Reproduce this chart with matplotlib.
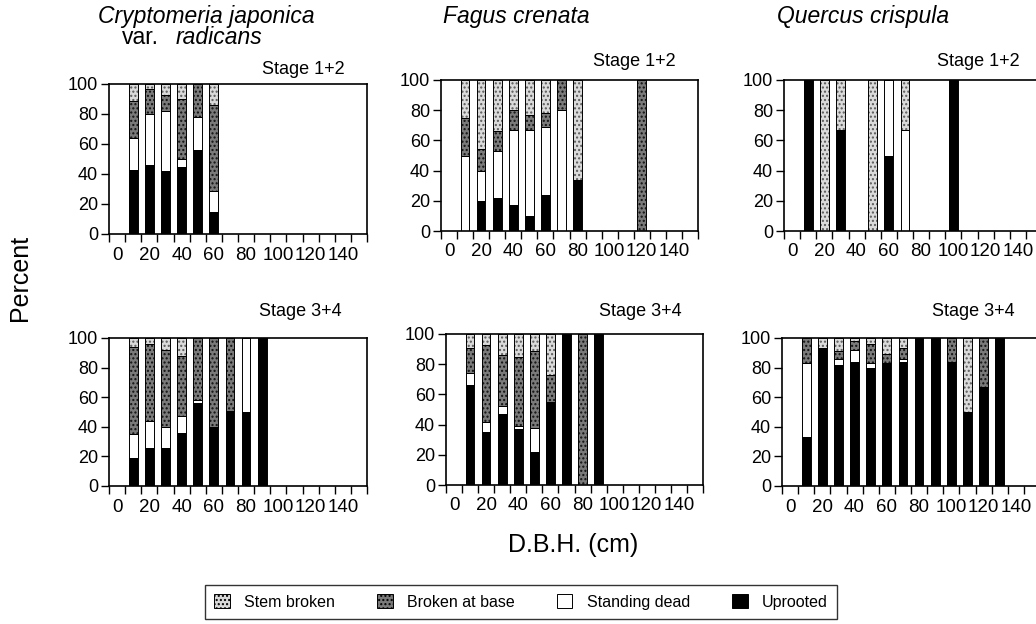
import matplotlib
matplotlib.use("Agg")
import matplotlib.pyplot as plt
from matplotlib.patches import Patch
import numpy as np

plt.rcParams["font.family"] = ["Liberation Sans", "DejaVu Sans"]
plt.rcParams["hatch.linewidth"] = 1.0

# DBH classes (cm) and percentages per damage type
crypto_s12_dbh = [10, 20, 30, 40, 50, 60]
crypto_s12_uprooted = [43, 46, 42, 45, 56, 15]
crypto_s12_standing = [21, 34, 40, 5, 22, 14]
crypto_s12_base = [25, 17, 11, 40, 22, 57]
crypto_s12_stem = [11, 3, 7, 10, 0, 14]

fagus_s12_dbh = [10, 20, 30, 40, 50, 60, 70, 80, 120]
fagus_s12_uprooted = [0, 20, 22, 17, 10, 24, 0, 34, 0]
fagus_s12_standing = [50, 20, 31, 50, 57, 45, 80, 0, 0]
fagus_s12_base = [25, 14, 13, 13, 10, 9, 20, 0, 100]
fagus_s12_stem = [25, 46, 34, 20, 23, 22, 0, 66, 0]

quercus_s12_dbh = [10, 20, 30, 50, 60, 70, 100]
quercus_s12_uprooted = [100, 0, 67, 0, 50, 0, 100]
quercus_s12_standing = [0, 0, 0, 0, 50, 67, 0]
quercus_s12_base = [0, 0, 0, 0, 0, 0, 0]
quercus_s12_stem = [0, 100, 33, 100, 0, 33, 0]

crypto_s34_dbh = [10, 20, 30, 40, 50, 60, 70, 80, 90]
crypto_s34_uprooted = [19, 26, 26, 36, 56, 40, 51, 50, 100]
crypto_s34_standing = [16, 18, 14, 11, 2, 0, 0, 50, 0]
crypto_s34_base = [59, 52, 52, 41, 42, 60, 49, 0, 0]
crypto_s34_stem = [6, 4, 8, 12, 0, 0, 0, 0, 0]

fagus_s34_dbh = [10, 20, 30, 40, 50, 60, 70, 80, 90]
fagus_s34_uprooted = [66, 35, 47, 37, 22, 55, 100, 0, 100]
fagus_s34_standing = [8, 7, 5, 2, 16, 0, 0, 0, 0]
fagus_s34_base = [17, 51, 34, 46, 51, 18, 0, 100, 0]
fagus_s34_stem = [9, 7, 14, 15, 11, 27, 0, 0, 0]

quercus_s34_dbh = [10, 20, 30, 40, 50, 60, 70, 80, 90, 100, 110, 120, 130]
quercus_s34_uprooted = [33, 93, 82, 84, 80, 83, 84, 100, 100, 84, 50, 67, 100]
quercus_s34_standing = [50, 0, 4, 8, 3, 0, 2, 0, 0, 0, 0, 0, 0]
quercus_s34_base = [17, 0, 5, 6, 13, 6, 7, 0, 0, 16, 0, 33, 0]
quercus_s34_stem = [0, 7, 9, 2, 4, 11, 7, 0, 0, 0, 50, 0, 0]

species = ["Cryptomeria japonica", "Fagus crenata", "Quercus crispula"]
categories = ["Stem broken", "Broken at base", "Standing dead", "Uprooted"]
x_ticks = [0, 20, 40, 60, 80, 100, 120, 140]
y_ticks = [0, 20, 40, 60, 80, 100]

# fill colour, hatch, hatch (dot) colour
styles = {
    "Uprooted": ("black", None, "black"),
    "Standing dead": ("white", None, "white"),
    "Broken at base": ("#7a7a7a", "....", "#111111"),
    "Stem broken": ("#dadada", "....", "#5a5a5a"),
}

W, H = 1036, 624
fig = plt.figure(figsize=(W / 100, H / 100), dpi=100)


def add_axes(left, top, width, bottom):
    return fig.add_axes([left / W, 1 - bottom / H, width / W, (bottom - top) / H])


def draw_panel(ax, dbh, uprooted, standing, base, stem, stage, stage_xy):
    bottom = np.zeros(len(dbh))
    for name, vals in [("Uprooted", uprooted), ("Standing dead", standing),
                       ("Broken at base", base), ("Stem broken", stem)]:
        vals = np.array(vals, dtype=float)
        fc, hatch, hc = styles[name]
        # stippled fill, then a black outline on top
        ax.bar(dbh, vals, width=5.4, bottom=bottom, facecolor=fc, hatch=hatch,
               edgecolor=hc, linewidth=0)
        ax.bar(dbh, vals, width=5.4, bottom=bottom, facecolor="none",
               edgecolor="black", linewidth=0.7)
        bottom += vals
    ax.set_xlim(-5, 155)
    ax.set_ylim(0, 100)
    ax.set_xticks(x_ticks)
    ax.set_xticklabels([str(t) for t in x_ticks], fontsize=13.5)
    ax.set_xticks(np.arange(-5, 160, 10), minor=True)
    ax.tick_params(axis="x", which="major", length=0, pad=9)
    ax.tick_params(axis="x", which="minor", length=6, width=1.0, direction="out")
    ax.set_yticks(y_ticks)
    ax.set_yticklabels([str(t) for t in y_ticks], fontsize=13)
    ax.tick_params(axis="y", length=6, width=1.0, direction="out", pad=2)
    for sp in ax.spines.values():
        sp.set_linewidth(1.2)
    fig.text(stage_xy[0] / W, 1 - stage_xy[1] / H, stage, ha="right", va="center",
             fontsize=13)


panels = [
    (add_axes(109, 84, 258, 234), crypto_s12_dbh, crypto_s12_uprooted, crypto_s12_standing,
     crypto_s12_base, crypto_s12_stem, "Stage 1+2", (345, 70)),
    (add_axes(441, 80, 257, 231), fagus_s12_dbh, fagus_s12_uprooted, fagus_s12_standing,
     fagus_s12_base, fagus_s12_stem, "Stage 1+2", (676, 61)),
    (add_axes(784, 80, 258, 231), quercus_s12_dbh, quercus_s12_uprooted, quercus_s12_standing,
     quercus_s12_base, quercus_s12_stem, "Stage 1+2", (1020, 61)),
    (add_axes(109, 338, 258, 486), crypto_s34_dbh, crypto_s34_uprooted, crypto_s34_standing,
     crypto_s34_base, crypto_s34_stem, "Stage 3+4", (342, 312)),
    (add_axes(446, 334, 257, 485), fagus_s34_dbh, fagus_s34_uprooted, fagus_s34_standing,
     fagus_s34_base, fagus_s34_stem, "Stage 3+4", (682, 311)),
    (add_axes(782, 338, 258, 486), quercus_s34_dbh, quercus_s34_uprooted, quercus_s34_standing,
     quercus_s34_base, quercus_s34_stem, "Stage 3+4", (1015, 311)),
]
for p in panels:
    draw_panel(*p)

# species titles
fig.text(98 / W, 1 - 16 / H, species[0], style="italic", fontsize=16.5, va="center")
fig.text(122 / W, 1 - 38 / H, "var.", fontsize=16.5, va="center")
fig.text(176 / W, 1 - 38 / H, "radicans", style="italic", fontsize=16.5, va="center")
fig.text(443 / W, 1 - 16 / H, species[1], style="italic", fontsize=16.5, va="center")
fig.text(777 / W, 1 - 16 / H, species[2], style="italic", fontsize=16.5, va="center")

fig.text(20 / W, 1 - 278 / H, "Percent", rotation=90, fontsize=18, ha="center", va="center")
fig.text(573 / W, 1 - 545 / H, "D.B.H. (cm)", fontsize=18, ha="center", va="center")

handles = [Patch(facecolor=styles[c][0], hatch=styles[c][1], edgecolor="black",
                 linewidth=0.7, label=c) for c in categories]
leg = fig.legend(handles=handles, loc="center", ncol=4,
                 bbox_to_anchor=(521 / W, 1 - 602 / H), frameon=True, fancybox=False,
                 edgecolor="black", fontsize=11.5, handlelength=1.0, handleheight=1.0,
                 columnspacing=2.6, handletextpad=0.9, borderpad=0.6, borderaxespad=0)
leg.get_frame().set_linewidth(1.0)

fig.savefig("out.png", dpi=100, facecolor="white")
